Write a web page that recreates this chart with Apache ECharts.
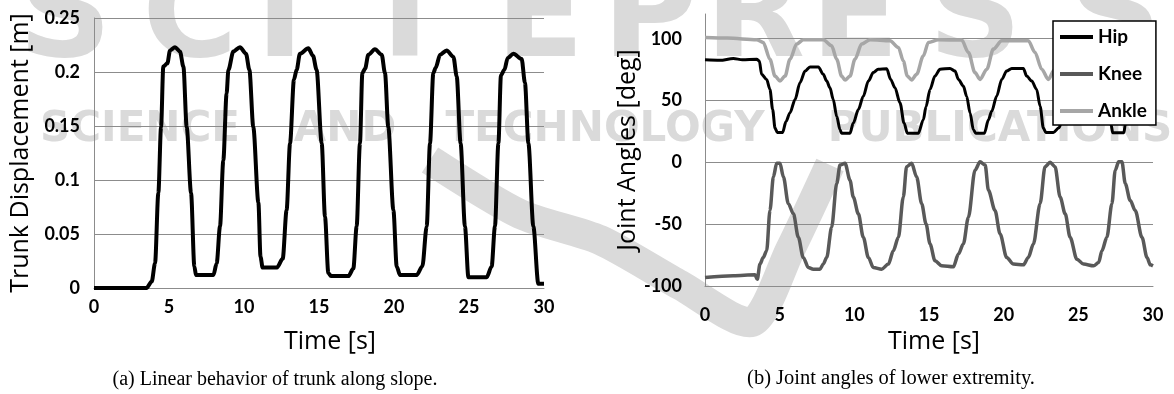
<!DOCTYPE html>
<html>
<head>
<meta charset="utf-8">
<script src="https://cdn.jsdelivr.net/npm/echarts@6/dist/echarts.min.js"></script>
<style>
  html, body { margin: 0; padding: 0; background: #fff; }
  #chart { width: 1174px; height: 394px; }
</style>
</head>
<body>
<div id="chart"></div>
<script>
// time [s], value pairs
const trunk = [
    [0, 0], [3.5, 0], [3.85, 0.006], [4.07, 0.023], [4.29, 0.088], [4.47, 0.149], [4.62, 0.205],
    [4.89, 0.208], [5.07, 0.22], [5.4, 0.223], [5.73, 0.219], [5.96, 0.205], [6.18, 0.149],
    [6.47, 0.088], [6.69, 0.02], [6.8, 0.012], [7.96, 0.012], [8.18, 0.023], [8.4, 0.057],
    [8.62, 0.118], [8.84, 0.18], [8.96, 0.202], [9.29, 0.219], [9.73, 0.223], [10.13, 0.217],
    [10.36, 0.202], [10.62, 0.149], [10.96, 0.079], [11.1, 0.029], [11.24, 0.019], [12.2, 0.019],
    [12.58, 0.027], [12.84, 0.072], [13.07, 0.134], [13.33, 0.193], [13.51, 0.202], [13.73, 0.217],
    [14.29, 0.222], [14.6, 0.215], [14.84, 0.202], [15.18, 0.134], [15.4, 0.066], [15.62, 0.014],
    [15.8, 0.011], [16.96, 0.011], [17.29, 0.018], [17.51, 0.057], [17.73, 0.134], [17.89, 0.199],
    [18.07, 0.203], [18.29, 0.216], [18.73, 0.221], [19.18, 0.216], [19.4, 0.199], [19.62, 0.149],
    [19.96, 0.072], [20.18, 0.02], [20.4, 0.012], [21.51, 0.012], [21.89, 0.02], [22.18, 0.057],
    [22.4, 0.134], [22.62, 0.199], [22.78, 0.204], [23.07, 0.216], [23.51, 0.22], [23.96, 0.214],
    [24.18, 0.196], [24.44, 0.134], [24.73, 0.057], [24.96, 0.01], [26.18, 0.01], [26.51, 0.02],
    [26.73, 0.057], [26.96, 0.134], [27.13, 0.197], [27.36, 0.202], [27.58, 0.213], [27.96, 0.217],
    [28.51, 0.212], [28.73, 0.19], [28.96, 0.134], [29.29, 0.057], [29.62, 0.004], [30, 0.004]
];

const hip = [
    [0, 82.9], [1.0, 82.5], [1.9, 84], [2.5, 83], [3.46, 83.4], [3.64, 82], [3.79, 71.2], [4.13, 67],
    [4.35, 59], [4.53, 42.7], [4.69, 27.7], [4.84, 24.2], [5.2, 24.2], [5.42, 33], [5.69, 40],
    [6.03, 50.8], [6.36, 64.4], [6.7, 73.9], [7.03, 77.2], [7.59, 77.2], [7.92, 71.2], [8.15, 65.8],
    [8.37, 60.3], [8.59, 50.8], [8.82, 37.2], [9.04, 26.4], [9.15, 23.6], [9.71, 23.6], [9.93, 31.8],
    [10.27, 42.7], [10.6, 53.5], [10.94, 65.8], [11.27, 72.6], [11.6, 75.3], [12.17, 75.8],
    [12.43, 67.1], [12.72, 60.3], [13.06, 48.1], [13.33, 31.8], [13.55, 23.6], [14.29, 23.6],
    [14.62, 34.5], [14.8, 45], [15.07, 59], [15.4, 69.8], [15.74, 75.3], [16.41, 76], [16.74, 73.9],
    [16.97, 67.1], [17.3, 61.7], [17.52, 53.5], [17.75, 40], [17.97, 26.4], [18.13, 23.6],
    [18.71, 23.6], [18.98, 34.5], [19.2, 41.3], [19.53, 53.5], [19.87, 67.1], [20.2, 73.9],
    [20.54, 76], [21.32, 76], [21.54, 69.8], [21.88, 65.8], [22.21, 59], [22.44, 45.4], [22.66, 27.7],
    [22.82, 24.2], [23.33, 24.2], [23.7, 28], [24.1, 45], [24.5, 62], [24.9, 72], [25.3, 76],
    [25.9, 76], [26.3, 68], [26.7, 55], [27.0, 38], [27.2, 30], [27.3, 24], [28.05, 24], [28.15, 31],
    [28.6, 50], [29.2, 68], [29.6, 75], [30, 77]
];

const knee = [
    [0, -93.2], [1.9, -91.8], [3.35, -91], [3.5, -94.6], [3.68, -82.3], [3.9, -77], [4.13, -71.5],
    [4.35, -38.9], [4.58, -11.7], [4.8, -0.8], [5.02, -0.8], [5.25, -11.7], [5.58, -33.4],
    [5.92, -41.6], [6.25, -60.6], [6.58, -76.9], [6.92, -85], [7.25, -86.4], [7.7, -86.4],
    [7.92, -82.3], [8.15, -76.9], [8.48, -52.4], [8.82, -17.1], [9.04, -2.2], [9.38, -0.8],
    [9.71, -14.4], [9.93, -28], [10.27, -41.6], [10.6, -60.6], [10.94, -76.9], [11.27, -85],
    [11.83, -86.4], [12.28, -82.3], [12.61, -71.5], [12.95, -60.6], [13.28, -28], [13.5, -3.5],
    [13.84, -0.8], [14.17, -11.7], [14.51, -33.4], [14.8, -49.7], [15.07, -66], [15.4, -79.6],
    [15.85, -83.7], [16.63, -84.5], [16.97, -74.2], [17.3, -66], [17.64, -44.3], [18.08, -6.3],
    [18.42, 0.5], [18.76, -2.2], [18.98, -22.6], [19.42, -38.9], [19.76, -57.9], [20.2, -76.9],
    [20.65, -82.3], [21.32, -82.9], [21.65, -76.9], [21.99, -66], [22.44, -33.4], [22.77, -3.5],
    [23.11, 0], [23.44, -3.5], [23.78, -28], [24.12, -41.6], [24.45, -60.6], [24.9, -78.3],
    [25.35, -82.3], [26.02, -83.7], [26.36, -81], [26.58, -71.5], [26.91, -60.6], [27.25, -33.4],
    [27.47, -6.3], [27.7, 0.5], [27.92, 0.5], [28.14, -17.1], [28.47, -30.7], [28.81, -38.9],
    [29.26, -60.6], [29.6, -76.9], [29.82, -82.9], [30, -83.7]
];

const ankle = [
    [0, 101], [1.5, 100.5], [3.46, 99.2], [3.9, 97], [4.35, 83.4], [4.69, 69.8], [5.02, 65.8],
    [5.36, 69.8], [5.69, 83.4], [6.14, 95.7], [6.58, 99.2], [7.92, 99.2], [8.48, 94.3], [8.82, 83.4],
    [9.15, 69.8], [9.38, 66.6], [9.71, 69.8], [10.04, 83.4], [10.49, 95.7], [11.05, 99.2],
    [12.39, 98.4], [12.95, 93], [13.28, 82], [13.55, 69.8], [13.84, 66.6], [14.17, 71.2],
    [14.62, 86.1], [14.96, 97], [15.63, 99.2], [17.19, 98.9], [17.64, 88.9], [18.08, 72.6],
    [18.42, 67.1], [18.87, 75.3], [19.31, 91.6], [19.87, 98.4], [21.65, 98.4], [22.1, 88.9],
    [22.55, 75.3], [22.99, 67.1], [23.4, 75], [23.8, 90], [24.3, 98], [26.5, 98.5], [26.9, 90],
    [27.3, 74], [27.6, 67], [28.0, 76], [28.4, 92], [28.9, 98.5], [30, 99]
];

const jointNames = ['Hip', 'Knee', 'Ankle'];
const jointColors = ['#000000', '#595959', '#a6a6a6'];
const captions = ['(a) Linear behavior of trunk along slope.', '(b) Joint angles of lower extremity.'];

// publisher watermark behind the charts
const markLetters = ['S', 'C', 'I', 'T', 'E', 'P', 'R', 'E', 'S', 'S'];
const markLetterX = [65, 190, 280, 405, 540, 650, 755, 855, 975, 1115];
const markWords = ['SCIENCE', 'AND', 'TECHNOLOGY', 'PUBLICATIONS'];
const markWordX = [140, 345, 605, 1000];

const chart = echarts.init(document.getElementById('chart'));

const gridCol = '#8c8c8c';
const markCol = '#dadada';
const labelFont = { color: '#000', fontFamily: 'Lato', fontWeight: 'bold', fontSize: 18 };
const nameFont = { color: '#000', fontFamily: 'Open Sans', fontSize: 25 };

function xAx(grid, margin, gap, pad) {
    return {
        type: 'value', gridIndex: grid, min: 0, max: 30, interval: 5,
        name: 'Time [s]', nameLocation: 'middle', nameGap: gap,
        nameTextStyle: Object.assign({ padding: [0, 0, 0, pad] }, nameFont),
        axisLine: { show: true, onZero: false, lineStyle: { color: gridCol, width: 1 } },
        axisTick: { show: false },
        axisLabel: Object.assign({ margin: margin }, labelFont),
        splitLine: { show: false }
    };
}

const marks = markLetters.map(function (ch, i) {
    return {
        type: 'text', z: -10,
        style: { text: ch, x: markLetterX[i], y: 22, textAlign: 'center', textVerticalAlign: 'middle',
                 fill: markCol, font: 'bold 130px "DejaVu Sans"' }
    };
}).concat(markWords.map(function (w, i) {
    return {
        type: 'text', z: -10,
        style: { text: w, x: markWordX[i], y: 130, textAlign: 'center', textVerticalAlign: 'middle',
                 fill: markCol, font: 'bold 42px "DejaVu Sans"' }
    };
})).concat([
    {
        // logo swoosh
        type: 'polyline', z: -10,
        shape: { points: [[430, 160], [520, 214], [600, 240], [680, 285], [752, 322], [790, 250], [830, 165]], smooth: 0.25 },
        style: { stroke: markCol, lineWidth: 30, fill: null, lineJoin: 'round' }
    }
]);

option = {
    backgroundColor: '#fff',
    animation: false,
    grid: [
        { left: 94, right: 630, top: 18, bottom: 106, outerBoundsMode: 'none' },
        { left: 705, right: 21, top: 14, bottom: 108, outerBoundsMode: 'none' }
    ],
    legend: {
        data: jointNames,
        orient: 'vertical',
        left: 1053, top: 21,
        padding: [6, 9, 4, 7],
        itemGap: 17,
        itemWidth: 33, itemHeight: 4,
        icon: 'rect',
        backgroundColor: '#fff',
        borderColor: '#000', borderWidth: 1.5,
        textStyle: { color: '#000', fontFamily: 'Lato', fontWeight: 'bold', fontSize: 19, lineHeight: 20 }
    },
    xAxis: [xAx(0, 10, 41, 22), xAx(1, 20, 36, 10)],
    yAxis: [
        {
            type: 'value', gridIndex: 0, min: 0, max: 0.25, interval: 0.05,
            name: 'Trunk Displacement [m]', nameLocation: 'middle', nameGap: 61,
            nameTextStyle: nameFont,
            axisLine: { show: true, lineStyle: { color: gridCol, width: 1 } },
            axisTick: { show: false },
            axisLabel: Object.assign({ margin: 14 }, labelFont),
            splitLine: { show: true, lineStyle: { color: gridCol, width: 1 } }
        },
        {
            type: 'value', gridIndex: 1, min: -100, max: 120, interval: 50,
            name: 'Joint Angles [deg]', nameLocation: 'middle', nameGap: 65,
            nameTextStyle: nameFont,
            axisLine: { show: true, onZero: false, lineStyle: { color: gridCol, width: 1 } },
            axisTick: { show: false },
            axisLabel: Object.assign({ margin: 23, showMaxLabel: false }, labelFont),
            splitLine: { show: true, showMaxLine: false, lineStyle: { color: gridCol, width: 1 } }
        }
    ],
    graphic: marks.concat([
        {
            type: 'text',
            style: { text: captions[0], x: 275, y: 380, textAlign: 'center', textVerticalAlign: 'middle',
                     fill: '#000', font: '20px "Liberation Serif"' }
        },
        {
            type: 'text',
            style: { text: captions[1], x: 891, y: 379, textAlign: 'center', textVerticalAlign: 'middle',
                     fill: '#000', font: '20.5px "Liberation Serif"' }
        }
    ]),
    series: [
        {
            name: 'Trunk', type: 'line', xAxisIndex: 0, yAxisIndex: 0,
            data: trunk, showSymbol: false, smooth: 0.3, smoothMonotone: 'x',
            lineStyle: { color: '#000', width: 4, join: 'round' }
        }
    ].concat([hip, knee, ankle].map(function (d, i) {
        return {
            name: jointNames[i], type: 'line', xAxisIndex: 1, yAxisIndex: 1,
            data: d, showSymbol: false, smooth: 0.3, smoothMonotone: 'x',
            color: jointColors[i],
            lineStyle: { color: jointColors[i], width: i === 0 ? 3 : 3.5, join: 'round' }
        };
    }))
};

chart.setOption(option);
</script>
</body>
</html>
